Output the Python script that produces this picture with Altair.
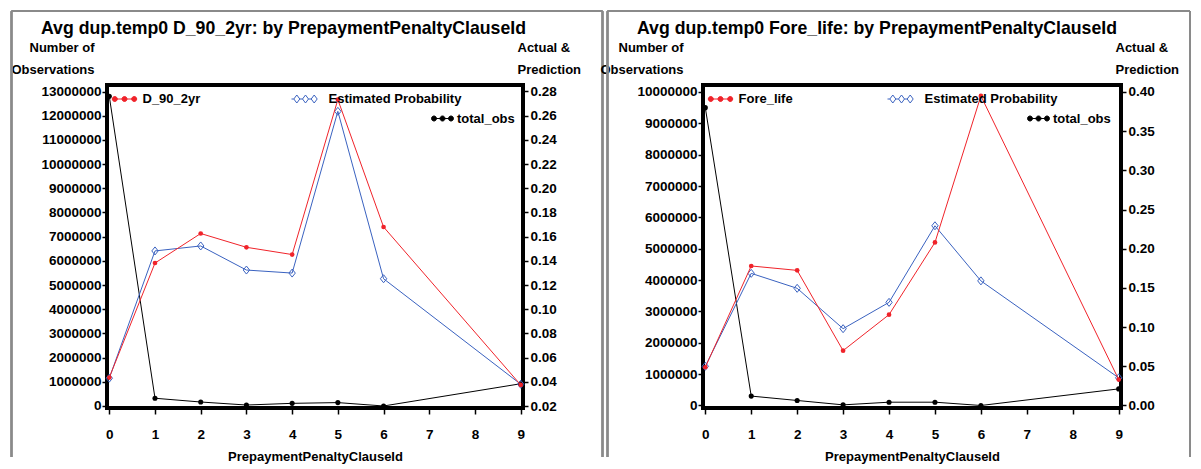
import altair as alt
import pandas as pd

# ---------------- data ----------------
x_ids = [0, 1, 2, 3, 4, 5, 6, 9]
x_ticks = [0, 1, 2, 3, 4, 5, 6, 7, 8, 9]

est_name = "Estimated  Probability"
obs_name = "total_obs"
x_title = "PrepaymentPenaltyClauseId"

# left panel
d90_title = "Avg dup.temp0 D_90_2yr: by PrepaymentPenaltyClauseId"
d90_name = "D_90_2yr"
d90_actual = [0.0435, 0.1382, 0.1626, 0.1512, 0.1452, 0.2733, 0.1680, 0.0374]
d90_est = [0.0430, 0.1482, 0.1523, 0.1324, 0.1299, 0.2636, 0.1252, 0.0380]
d90_obs = [12800000, 320000, 165000, 40000, 110000, 140000, 0, 920000]
d90_left_ticks = [i * 1000000 for i in range(14)]
d90_right_ticks = [0.02, 0.04, 0.06, 0.08, 0.10, 0.12, 0.14, 0.16, 0.18, 0.20, 0.22, 0.24, 0.26, 0.28]

# right panel
fore_title = "Avg dup.temp0 Fore_life: by PrepaymentPenaltyClauseId"
fore_name = "Fore_life"
fore_actual = [0.0488, 0.1780, 0.1724, 0.0700, 0.1159, 0.2080, 0.3950, 0.0331]
fore_est = [0.0500, 0.1686, 0.1495, 0.0980, 0.1316, 0.2293, 0.1590, 0.0353]
fore_obs = [9500000, 300000, 160000, 20000, 105000, 105000, 0, 530000]
fore_left_ticks = [i * 1000000 for i in range(11)]
fore_right_ticks = [0.00, 0.05, 0.10, 0.15, 0.20, 0.25, 0.30, 0.35, 0.40]

# ---------------- style ----------------
FONT = "Liberation Sans"
RED = "#f0232a"
BLUE = "#3a62c0"
FRAME = "#8a8a8a"

DOTS_A = ("M-2.44,0a0.5,0.5 0 1,0 1,0a0.5,0.5 0 1,0 -1,0"
          "M-0.5,0a0.5,0.5 0 1,0 1,0a0.5,0.5 0 1,0 -1,0"
          "M1.44,0a0.5,0.5 0 1,0 1,0a0.5,0.5 0 1,0 -1,0M-1.94,0L1.94,0")
DOTS_B = ("M-2.2,0a0.5,0.5 0 1,0 1,0a0.5,0.5 0 1,0 -1,0"
          "M-0.5,0a0.5,0.5 0 1,0 1,0a0.5,0.5 0 1,0 -1,0"
          "M1.2,0a0.5,0.5 0 1,0 1,0a0.5,0.5 0 1,0 -1,0M-1.7,0L1.7,0")
DIAMONDS = ("M-2.34,0L-1.74,-0.8L-1.14,0L-1.74,0.8Z"
            "M-0.6,0L0,-0.8L0.6,0L0,0.8Z"
            "M1.14,0L1.74,-0.8L2.34,0L1.74,0.8Z"
            "M-2.8,0L-2.34,0M-1.14,0L-0.6,0M0.6,0L1.14,0")
DIAMOND_MARK = "M-0.8,0L0,-1L0.8,0L0,1Z"

PLOT_H = 323
FRAME_X = -95.5
FRAME_Y = -73.75


def legend(x, y, sym, fill, stroke, offset):
    return alt.Legend(
        orient="none", legendX=x, legendY=y, title=None, padding=0,
        symbolType=sym, symbolSize=100, symbolFillColor=fill,
        symbolStrokeColor=stroke, symbolStrokeWidth=1,
        labelFont=FONT, labelFontSize=13, labelFontWeight="bold",
        labelColor="black", labelOffset=offset, labelLimit=0,
    )


def panel(title, act_name, act, est, obs, l_dom, l_ticks, r_dom, r_ticks,
          width, l_title_x, r_title_x, r_frame_x):
    n = len(x_ids)
    df = pd.DataFrame({
        "id": x_ids, "act": act, "est": est, "obs": obs,
        "s_act": [act_name] * n, "s_est": [est_name] * n, "s_obs": [obs_name] * n,
    })
    base = alt.Chart(df)

    xenc = alt.X(
        "id:Q",
        scale=alt.Scale(domain=[-0.05, 9.05], nice=False, zero=False),
        axis=alt.Axis(values=x_ticks, format="d", title=x_title,
                      labelPadding=13, tickSize=6, titlePadding=10),
    )
    left_axis = alt.Axis(
        orient="left", values=l_ticks, format="d",
        title=["Number of", "Observations"], titleAngle=0, titleAlign="right",
        titleBaseline="alphabetic", titleX=l_title_x, titleY=-34, titleLineHeight=22,
        tickSize=5, labelPadding=1,
    )
    right_axis = alt.Axis(
        orient="right", values=r_ticks, format=".2f",
        title=["Actual &", "Prediction"], titleAngle=0, titleAlign="left",
        titleBaseline="alphabetic", titleX=r_title_x, titleY=-34,
        titleLineHeight=22, tickSize=5, labelPadding=2,
    )
    yl = alt.Y("obs:Q", scale=alt.Scale(domain=l_dom, nice=False, zero=False), axis=left_axis)
    yr_act = alt.Y("act:Q", scale=alt.Scale(domain=r_dom, nice=False, zero=False), axis=right_axis)
    yr_est = alt.Y("est:Q", scale=alt.Scale(domain=r_dom, nice=False, zero=False), axis=right_axis)

    obs_line = base.mark_line(color="black", strokeWidth=1).encode(x=xenc, y=yl)
    obs_pts = base.mark_point(filled=True, size=26, opacity=1, shape="circle").encode(
        x=xenc, y=yl,
        color=alt.Color("s_obs:N", scale=alt.Scale(range=["black"]),
                        legend=legend(329, 27, DOTS_B, "black", "black", 8)),
    )
    obs_layer = alt.layer(obs_line, obs_pts)

    est_line = base.mark_line(color=BLUE, strokeWidth=1).encode(x=xenc, y=yr_est)
    est_pts = base.mark_point(filled=False, size=64, opacity=1, strokeWidth=1,
                              shape=DIAMOND_MARK).encode(
        x=xenc, y=yr_est,
        color=alt.Color("s_est:N", scale=alt.Scale(range=[BLUE]),
                        legend=legend(192, 7.5, DIAMONDS, "transparent", BLUE, 16.5)),
    )
    act_line = base.mark_line(color=RED, strokeWidth=1).encode(x=xenc, y=yr_act)
    act_pts = base.mark_point(filled=True, size=22, opacity=1, shape="circle").encode(
        x=xenc, y=yr_act,
        color=alt.Color("s_act:N", scale=alt.Scale(range=[RED]),
                        legend=legend(11, 7.5, DOTS_A, RED, RED, 11.5)),
    )
    prob_layer = alt.layer(est_line, est_pts, act_line, act_pts).resolve_scale(
        color="independent").resolve_legend(color="independent")

    frame_left = base.mark_rule(color=FRAME, strokeWidth=1.5).encode(
        x=alt.value(FRAME_X), y=alt.value(FRAME_Y), y2=alt.value(372))
    frame_right = base.mark_rule(color=FRAME, strokeWidth=1.5).encode(
        x=alt.value(r_frame_x), y=alt.value(FRAME_Y), y2=alt.value(372))
    frame_top = base.mark_rule(color=FRAME, strokeWidth=1.5).encode(
        x=alt.value(FRAME_X), x2=alt.value(r_frame_x), y=alt.value(FRAME_Y))

    return alt.layer(frame_left, frame_right, frame_top, obs_layer, prob_layer).resolve_scale(
        y="independent", color="independent"
    ).resolve_legend(color="independent").properties(
        width=width, height=PLOT_H,
        title=alt.Title(title, anchor="start", frame="group", dx=-66, dy=35, offset=8,
                        font=FONT, fontSize=17.7, fontWeight="bold", color="black"),
    )


left = panel(d90_title, d90_name, d90_actual, d90_est, d90_obs,
             [-0.083e6, 13.27e6], d90_left_ticks, [0.01835, 0.28537], d90_right_ticks,
             416, -13, -6, 495.5)
right = panel(fore_title, fore_name, fore_actual, fore_est, fore_obs,
              [-0.08e6, 10.223e6], fore_left_ticks, [-0.0032, 0.4089], fore_right_ticks,
              418, -20, -6, 487)

chart = alt.hconcat(left, right, spacing=180, bounds="flush").properties(
    padding={"left": 0, "top": 0, "right": 0, "bottom": 0},
    background="white",
).configure_view(
    stroke="black", strokeWidth=4
).configure_axis(
    labelFont=FONT, labelFontSize=13.5, labelFontWeight="bold", labelColor="black",
    titleFont=FONT, titleFontSize=13, titleFontWeight="bold", titleColor="black",
    tickColor="black", tickWidth=1.5, domain=False, grid=False,
)

chart.save("out.html", embed_options={"renderer": "svg", "actions": False})
